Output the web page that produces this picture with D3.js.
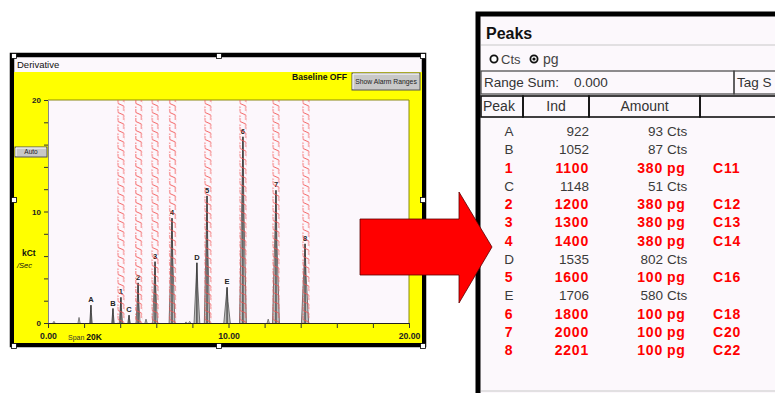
<!DOCTYPE html>
<html>
<head>
<meta charset="utf-8">
<script src="https://cdn.jsdelivr.net/npm/d3@7"></script>
<style>
  html, body { margin: 0; padding: 0; background: #fff; }
  svg { display: block; font-family: "Liberation Sans", Arial, sans-serif; }
</style>
</head>
<body>
<svg id="chart" width="775" height="393"></svg>
<script>
// ---- peak data (time in min, height in kCt/Sec) ----
const peakNames   = ['A', 'B', '1', 'C', '2', '3', '4', 'D', '5', 'E', '6', '7', '8'];
const peakTimes   = [2.38, 3.60, 4.04, 4.49, 4.99, 5.93, 6.87, 8.25, 8.81, 9.92, 10.80, 12.63, 14.24];
const peakHeights = [1.6, 1.3, 2.3, 0.7, 3.6, 5.5, 9.4, 5.4, 11.4, 3.2, 16.7, 11.9, 7.1];
const peakHalfW   = [0.07, 0.07, 0.09, 0.07, 0.11, 0.13, 0.16, 0.16, 0.15, 0.18, 0.19, 0.19, 0.2];

// small unlabelled bumps
const minorTimes   = [0.33, 1.72, 5.43, 7.65, 7.85, 12.2];
const minorHeights = [0.15, 0.5, 0.35, 0.1, 0.15, 0.35];

// alarm ranges (centre, min)
const alarmCenters = [4.04, 5.02, 5.93, 6.90, 8.86, 10.80, 12.63, 14.29];
const alarmHalfW = 0.2;

// axes
const yTicks = [0, 2, 4, 6, 8, 10, 12, 14, 16, 18, 20];
const yTickLabels = [0, 10, 20];
const xTicks = [0, 2, 4, 6, 8, 10, 12, 14, 16, 18, 20];
const xTickLabels = [0, 10, 20];

// ---- peaks table ----
const tblInd    = [922, 1052, 1100, 1148, 1200, 1300, 1400, 1535, 1600, 1706, 1800, 2000, 2201];
const tblAmount = [93, 87, 380, 51, 380, 380, 380, 802, 100, 580, 100, 100, 100];
const tblUnit   = ['Cts', 'Cts', 'pg', 'Cts', 'pg', 'pg', 'pg', 'Cts', 'pg', 'Cts', 'pg', 'pg', 'pg'];
const tblTag    = ['', '', 'C11', '', 'C12', 'C13', 'C14', '', 'C16', '', 'C18', 'C20', 'C22'];

const svg = d3.select('#chart');

// ================= left window (chromatogram) =================
svg.append('rect')
  .attr('x', 12).attr('y', 55).attr('width', 412).attr('height', 290)
  .attr('fill', '#fcf8fc').attr('stroke', '#000').attr('stroke-width', 4.5);
svg.append('rect')
  .attr('x', 14).attr('y', 72).attr('width', 408).attr('height', 271)
  .attr('fill', '#ffff00');

svg.append('text').attr('x', 17).attr('y', 68)
  .attr('font-size', 9.5).attr('fill', '#111').text('Derivative');

svg.append('text').attr('x', 347).attr('y', 80).attr('text-anchor', 'end')
  .attr('font-size', 8.6).attr('font-weight', 'bold').attr('fill', '#111').text('Baseline OFF');

// buttons
function button(x0, y0, w, h, label, fs) {
  svg.append('rect').attr('x', x0).attr('y', y0).attr('width', w).attr('height', h)
    .attr('fill', '#c8c8c8').attr('stroke', '#555').attr('stroke-width', 1);
  svg.append('path').attr('d', `M${x0 + 1},${y0 + h - 1}V${y0 + 1}H${x0 + w - 1}`)
    .attr('fill', 'none').attr('stroke', '#fff').attr('stroke-width', 1);
  svg.append('text').attr('x', x0 + w / 2).attr('y', y0 + h / 2 + fs * 0.36)
    .attr('text-anchor', 'middle').attr('font-size', fs).attr('fill', '#222').text(label);
}
button(352, 73, 68, 17, 'Show Alarm Ranges', 6.8);
button(15, 147, 32, 10, 'Auto', 6.5);

svg.append('text').attr('x', 22).attr('y', 256)
  .attr('font-size', 8.5).attr('font-weight', 'bold').attr('fill', '#111').text('kCt');
svg.append('text').attr('x', 17).attr('y', 268)
  .attr('font-size', 7.5).attr('font-style', 'italic').attr('fill', '#111').text('/Sec');

// scales
const x = d3.scaleLinear().domain([0, 20]).range([48, 409]);
const y = d3.scaleLinear().domain([0, 20]).range([323, 100]);

// plot area
svg.append('rect')
  .attr('x', x(0)).attr('y', y(20))
  .attr('width', x(20) - x(0)).attr('height', y(0) - y(20))
  .attr('fill', '#fcf7fc');
svg.append('path')
  .attr('d', `M${x(0)},${y(20)}H${x(20)}V${y(0)}`)
  .attr('fill', 'none').attr('stroke', '#8a8a10').attr('stroke-width', 1);

// peaks
const area = d3.area()
  .x(d => x(d[0]))
  .y0(y(0))
  .y1(d => y(d[1]));
const line = d3.line().x(d => x(d[0])).y(d => y(d[1]));

const gPeaks = svg.append('g');
minorTimes.forEach((t, i) => {
  const pts = [[t - 0.06, 0], [t, minorHeights[i]], [t + 0.06, 0]];
  gPeaks.append('path').attr('d', area(pts)).attr('fill', '#c4c4c4');
  gPeaks.append('path').attr('d', line(pts)).attr('fill', 'none').attr('stroke', '#666').attr('stroke-width', 0.8);
});
peakTimes.forEach((t, i) => {
  const w = peakHalfW[i];
  const pts = [[t - w, 0], [t - w * 0.25, peakHeights[i] * 0.75], [t, peakHeights[i]], [t + w * 0.3, peakHeights[i] * 0.6], [t + w, 0]];
  gPeaks.append('path').attr('d', area(pts)).attr('fill', '#bdbdbd');
  gPeaks.append('path').attr('d', line(pts)).attr('fill', 'none').attr('stroke', '#555').attr('stroke-width', 0.8);
  gPeaks.append('line')
    .attr('x1', x(t)).attr('x2', x(t))
    .attr('y1', y(0)).attr('y2', y(peakHeights[i]))
    .attr('stroke', '#222').attr('stroke-width', 1);
  gPeaks.append('text')
    .attr('x', x(t)).attr('y', y(peakHeights[i]) - 3)
    .attr('text-anchor', 'middle').attr('font-size', 7.5).attr('font-weight', 'bold')
    .attr('fill', '#222').text(peakNames[i]);
});

// alarm ranges (red zig-zag bands)
const defs = svg.append('defs');
alarmCenters.forEach((c, i) => {
  const x0 = x(c - alarmHalfW), w = x(c + alarmHalfW) - x0;
  const p = defs.append('pattern')
    .attr('id', 'alarm' + i)
    .attr('patternUnits', 'userSpaceOnUse')
    .attr('x', x0).attr('y', y(20))
    .attr('width', w).attr('height', 9);
  p.append('path')
    .attr('d', `M0.8,0V3.5L${w - 0.8},6V9M${w - 0.8},0V2M0.8,6.5V8`)
    .attr('fill', 'none').attr('stroke', '#f24d4d')
    .attr('stroke-width', 0.9).attr('opacity', 0.9);
  svg.append('rect')
    .attr('x', x0).attr('y', y(20))
    .attr('width', w).attr('height', y(0) - y(20))
    .attr('fill', `url(#alarm${i})`);
});

// axes
const gy = svg.append('g').attr('transform', `translate(${x(0)},0)`)
  .call(d3.axisLeft(y).tickValues(yTicks).tickSize(4).tickSizeOuter(0)
    .tickFormat(d => yTickLabels.includes(d) ? d : ''));
gy.select('.domain').attr('stroke', '#888');
gy.selectAll('.tick line').attr('stroke', '#333');
gy.selectAll('.tick text').attr('font-size', 8).attr('font-weight', 'bold')
  .attr('fill', '#222').attr('font-family', '"Liberation Sans", Arial, sans-serif');

const gx = svg.append('g').attr('transform', `translate(0,${y(0)})`)
  .call(d3.axisBottom(x).tickValues(xTicks).tickSize(5).tickSizeOuter(0)
    .tickFormat(d => xTickLabels.includes(d) ? d.toFixed(2) : ''));
gx.select('.domain').attr('stroke', '#222');
gx.selectAll('.tick line').attr('stroke', '#333');
gx.selectAll('.tick text').attr('y', 10).attr('font-size', 8.7).attr('font-weight', 'bold')
  .attr('fill', '#222').attr('font-family', '"Liberation Sans", Arial, sans-serif');

const span = svg.append('text').attr('x', 68).attr('y', 340).attr('font-size', 7).attr('fill', '#333');
span.append('tspan').text('Span ');
span.append('tspan').attr('font-weight', 'bold').attr('font-size', 8.5).attr('fill', '#111').text('20K');

// selection handles
const handleX = [14, 219, 423], handleY = [56, 200, 346];
handleY.forEach((hy, j) => handleX.forEach((hx, i) => {
  if (i === 1 && j === 1) return;
  svg.append('rect').attr('x', hx - 2.5).attr('y', hy - 2.5).attr('width', 5).attr('height', 5)
    .attr('fill', '#fff').attr('stroke', '#000').attr('stroke-width', 0.8);
}));

// ================= right window (peaks table) =================
svg.append('rect').attr('x', 478).attr('y', 14).attr('width', 310).attr('height', 400)
  .attr('fill', '#fcf8fc').attr('stroke', '#000').attr('stroke-width', 5);
svg.append('line').attr('x1', 481).attr('x2', 775).attr('y1', 45).attr('y2', 45)
  .attr('stroke', '#c8c8c8');
svg.append('line').attr('x1', 481).attr('x2', 775).attr('y1', 391).attr('y2', 391)
  .attr('stroke', '#c8c8c8');

svg.append('text').attr('x', 486).attr('y', 39)
  .attr('font-size', 16).attr('font-weight', 'bold').attr('fill', '#111').text('Peaks');

// radio buttons
svg.append('circle').attr('cx', 494).attr('cy', 59).attr('r', 3.6)
  .attr('fill', '#fff').attr('stroke', '#111').attr('stroke-width', 1.8);
svg.append('text').attr('x', 501).attr('y', 64).attr('font-size', 13).attr('fill', '#444').text('Cts');
svg.append('circle').attr('cx', 534).attr('cy', 59).attr('r', 3.6)
  .attr('fill', '#fff').attr('stroke', '#111').attr('stroke-width', 1.8);
svg.append('circle').attr('cx', 534).attr('cy', 59).attr('r', 1.6).attr('fill', '#111');
svg.append('text').attr('x', 543).attr('y', 64).attr('font-size', 14).attr('fill', '#444').text('pg');

// range sum / tag sum boxes
svg.append('rect').attr('x', 481).attr('y', 71).attr('width', 253).attr('height', 23)
  .attr('fill', 'none').attr('stroke', '#444').attr('stroke-width', 1.2);
svg.append('rect').attr('x', 734).attr('y', 71).attr('width', 60).attr('height', 23)
  .attr('fill', 'none').attr('stroke', '#444').attr('stroke-width', 1.2);
svg.append('text').attr('x', 484).attr('y', 87).attr('font-size', 13.5).attr('fill', '#333')
  .text('Range Sum:');
svg.append('text').attr('x', 574).attr('y', 87).attr('font-size', 13.5).attr('fill', '#333')
  .text('0.000');
svg.append('text').attr('x', 737).attr('y', 87).attr('font-size', 13.5).attr('fill', '#333')
  .text('Tag S');

// header row
const colEdges = [481, 523, 589, 700, 790];
const headers = ['Peak', 'Ind', 'Amount', ''];
headers.forEach((h, i) => {
  svg.append('rect').attr('x', colEdges[i]).attr('y', 96)
    .attr('width', colEdges[i + 1] - colEdges[i]).attr('height', 21)
    .attr('fill', 'none').attr('stroke', '#111').attr('stroke-width', 1.6);
  svg.append('text')
    .attr('x', i === 0 ? colEdges[i] + 2 : (colEdges[i] + colEdges[i + 1]) / 2)
    .attr('y', 111).attr('text-anchor', i === 0 ? 'start' : 'middle')
    .attr('font-size', 14).attr('fill', '#333').text(h);
});

// rows
const rowY = d3.scalePoint().domain(d3.range(peakNames.length)).range([131, 350]);
const gRows = svg.append('g');
peakNames.forEach((name, i) => {
  const cal = tblUnit[i] === 'pg';
  const row = gRows.append('g')
    .attr('transform', `translate(0,${rowY(i) + 5})`)
    .attr('fill', cal ? '#ff0000' : '#3a3a3a')
    .attr('font-size', cal ? 14 : 13.5)
    .attr('font-weight', cal ? 'bold' : 'normal')
    .attr('letter-spacing', cal ? 0.8 : 0);
  row.append('text').attr('x', 509).attr('text-anchor', 'middle').text(name);
  row.append('text').attr('x', 589).attr('text-anchor', 'end').text(tblInd[i]);
  row.append('text').attr('x', 663).attr('text-anchor', 'end').text(tblAmount[i]);
  row.append('text').attr('x', 667).text(tblUnit[i]);
  if (tblTag[i]) row.append('text').attr('x', 713).text(tblTag[i]);
});

// ================= red arrow =================
const arrowPts = [[360, 219], [459, 219], [459, 192], [492, 247], [459, 303], [459, 275], [360, 275]];
svg.append('path')
  .attr('d', d3.line()(arrowPts) + 'Z')
  .attr('fill', '#ff0000').attr('stroke', '#5a0000').attr('stroke-width', 0.8);
</script>
</body>
</html>
